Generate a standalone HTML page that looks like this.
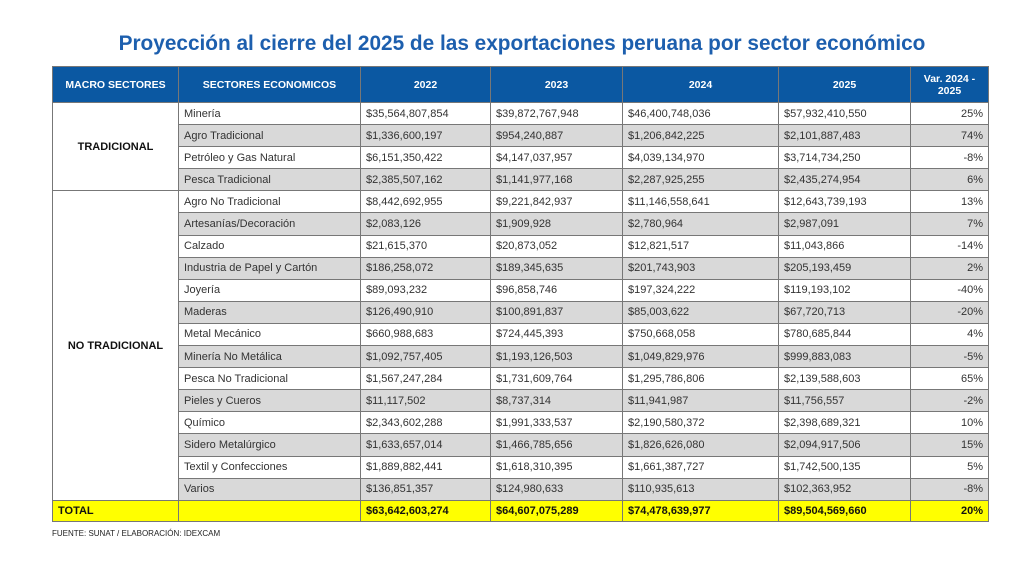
<!DOCTYPE html>
<html><head><meta charset="utf-8"><style>
body{margin:0;width:1024px;height:570px;background:#fff;font-family:"Liberation Sans",sans-serif;position:relative;overflow:hidden}
h1{position:absolute;top:32px;left:0;width:1044px;margin:0;text-align:center;font-size:20.8px;color:#1d5fae;font-weight:bold}
table{position:absolute;left:52px;top:66px;border-collapse:collapse;table-layout:fixed;font-size:11px;color:#333}
td,th{border:1px solid #777;padding:0 5px;height:21.1px;white-space:nowrap}
th{background:#0b58a2;color:#fff;font-size:10.5px;height:35px;font-weight:bold}
td.p{text-align:right}
tr.g td.c{background:#d9d9d9}
td.m{font-weight:bold;text-align:center;background:#fff;color:#111}
tr.t td{background:#ffff00;font-weight:bold;color:#111;height:20px}
.f{position:absolute;left:52px;top:529px;font-size:8px;color:#222}
</style></head><body>
<h1>Proyección al cierre del 2025 de las exportaciones peruana por sector económico</h1>
<table>
<colgroup><col style="width:126px"><col style="width:182px"><col style="width:130px"><col style="width:132px"><col style="width:156px"><col style="width:132px"><col style="width:78px"></colgroup>
<tr><th>MACRO SECTORES</th><th>SECTORES ECONOMICOS</th><th>2022</th><th>2023</th><th>2024</th><th>2025</th><th>Var. 2024 -<br>2025</th></tr>
<tr><td class="m" rowspan="4">TRADICIONAL</td><td class="c">Minería</td><td class="c">$35,564,807,854</td><td class="c">$39,872,767,948</td><td class="c">$46,400,748,036</td><td class="c">$57,932,410,550</td><td class="c p">25%</td></tr>
<tr class="g"><td class="c">Agro Tradicional</td><td class="c">$1,336,600,197</td><td class="c">$954,240,887</td><td class="c">$1,206,842,225</td><td class="c">$2,101,887,483</td><td class="c p">74%</td></tr>
<tr><td class="c">Petróleo y Gas Natural</td><td class="c">$6,151,350,422</td><td class="c">$4,147,037,957</td><td class="c">$4,039,134,970</td><td class="c">$3,714,734,250</td><td class="c p">-8%</td></tr>
<tr class="g"><td class="c">Pesca Tradicional</td><td class="c">$2,385,507,162</td><td class="c">$1,141,977,168</td><td class="c">$2,287,925,255</td><td class="c">$2,435,274,954</td><td class="c p">6%</td></tr>
<tr><td class="m" rowspan="14">NO TRADICIONAL</td><td class="c">Agro No Tradicional</td><td class="c">$8,442,692,955</td><td class="c">$9,221,842,937</td><td class="c">$11,146,558,641</td><td class="c">$12,643,739,193</td><td class="c p">13%</td></tr>
<tr class="g"><td class="c">Artesanías/Decoración</td><td class="c">$2,083,126</td><td class="c">$1,909,928</td><td class="c">$2,780,964</td><td class="c">$2,987,091</td><td class="c p">7%</td></tr>
<tr><td class="c">Calzado</td><td class="c">$21,615,370</td><td class="c">$20,873,052</td><td class="c">$12,821,517</td><td class="c">$11,043,866</td><td class="c p">-14%</td></tr>
<tr class="g"><td class="c">Industria de Papel y Cartón</td><td class="c">$186,258,072</td><td class="c">$189,345,635</td><td class="c">$201,743,903</td><td class="c">$205,193,459</td><td class="c p">2%</td></tr>
<tr><td class="c">Joyería</td><td class="c">$89,093,232</td><td class="c">$96,858,746</td><td class="c">$197,324,222</td><td class="c">$119,193,102</td><td class="c p">-40%</td></tr>
<tr class="g"><td class="c">Maderas</td><td class="c">$126,490,910</td><td class="c">$100,891,837</td><td class="c">$85,003,622</td><td class="c">$67,720,713</td><td class="c p">-20%</td></tr>
<tr><td class="c">Metal Mecánico</td><td class="c">$660,988,683</td><td class="c">$724,445,393</td><td class="c">$750,668,058</td><td class="c">$780,685,844</td><td class="c p">4%</td></tr>
<tr class="g"><td class="c">Minería No Metálica</td><td class="c">$1,092,757,405</td><td class="c">$1,193,126,503</td><td class="c">$1,049,829,976</td><td class="c">$999,883,083</td><td class="c p">-5%</td></tr>
<tr><td class="c">Pesca No Tradicional</td><td class="c">$1,567,247,284</td><td class="c">$1,731,609,764</td><td class="c">$1,295,786,806</td><td class="c">$2,139,588,603</td><td class="c p">65%</td></tr>
<tr class="g"><td class="c">Pieles y Cueros</td><td class="c">$11,117,502</td><td class="c">$8,737,314</td><td class="c">$11,941,987</td><td class="c">$11,756,557</td><td class="c p">-2%</td></tr>
<tr><td class="c">Químico</td><td class="c">$2,343,602,288</td><td class="c">$1,991,333,537</td><td class="c">$2,190,580,372</td><td class="c">$2,398,689,321</td><td class="c p">10%</td></tr>
<tr class="g"><td class="c">Sidero Metalúrgico</td><td class="c">$1,633,657,014</td><td class="c">$1,466,785,656</td><td class="c">$1,826,626,080</td><td class="c">$2,094,917,506</td><td class="c p">15%</td></tr>
<tr><td class="c">Textil y Confecciones</td><td class="c">$1,889,882,441</td><td class="c">$1,618,310,395</td><td class="c">$1,661,387,727</td><td class="c">$1,742,500,135</td><td class="c p">5%</td></tr>
<tr class="g"><td class="c">Varios</td><td class="c">$136,851,357</td><td class="c">$124,980,633</td><td class="c">$110,935,613</td><td class="c">$102,363,952</td><td class="c p">-8%</td></tr>
<tr class="t"><td>TOTAL</td><td></td><td>$63,642,603,274</td><td>$64,607,075,289</td><td>$74,478,639,977</td><td>$89,504,569,660</td><td class="p">20%</td></tr>
</table>
<div class="f">FUENTE: SUNAT / ELABORACIÓN: IDEXCAM</div>
</body></html>
